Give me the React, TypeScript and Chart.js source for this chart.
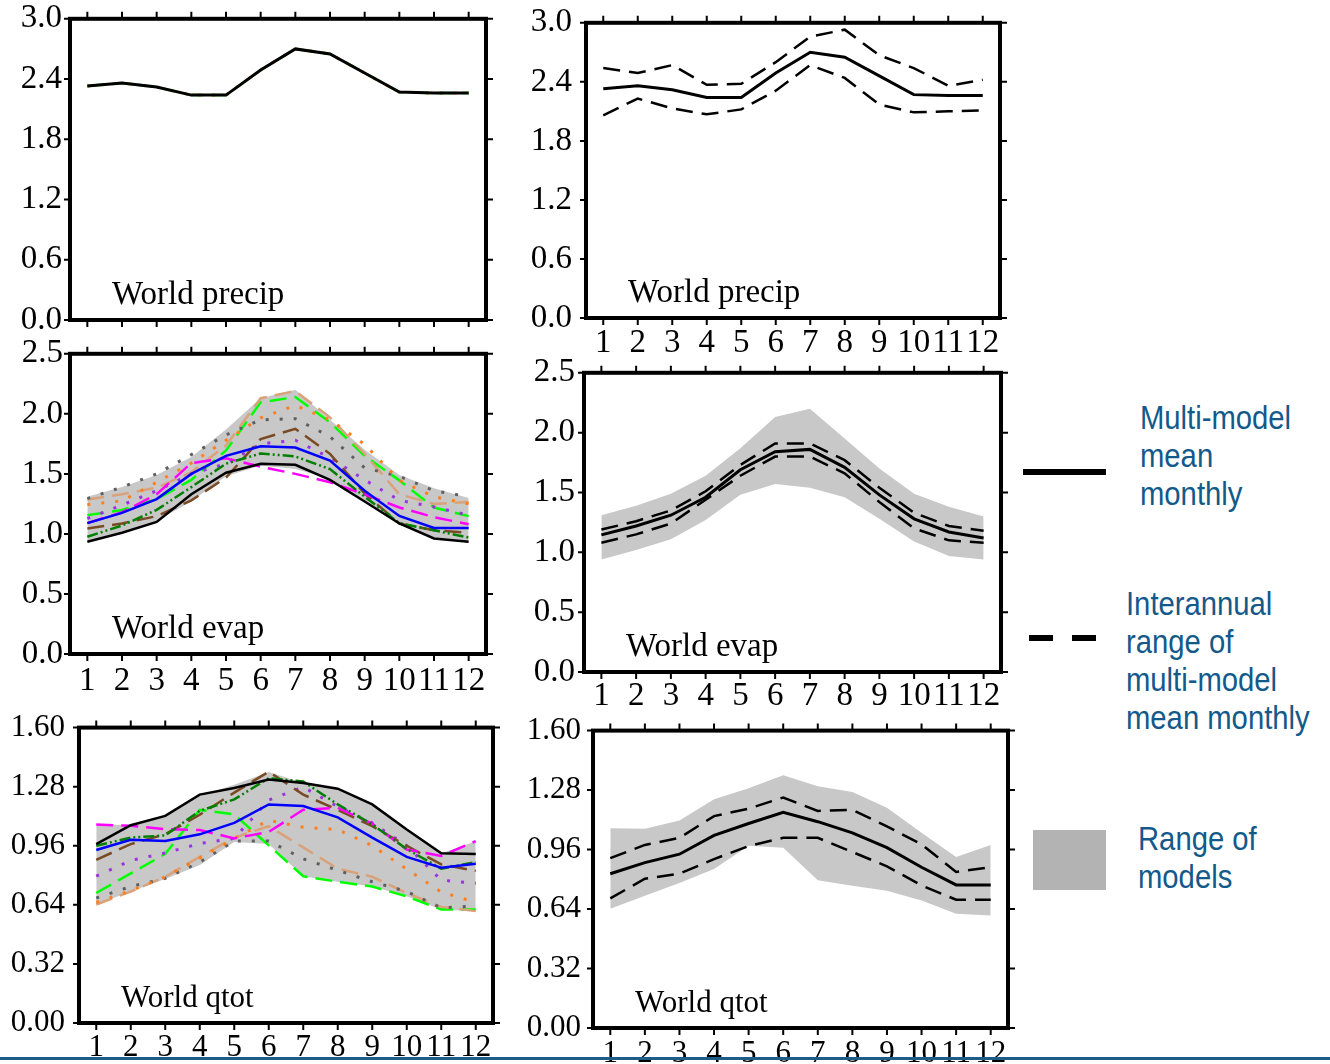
import React, { useEffect, useRef } from "react";
import { Chart, registerables } from "chart.js";

Chart.register(...registerables);

// ---------- categories & tick labels ----------
const months = ["1", "2", "3", "4", "5", "6", "7", "8", "9", "10", "11", "12"];
const precipTicks = [0, 0.6, 1.2, 1.8, 2.4, 3.0];
const evapTicks = [0, 0.5, 1.0, 1.5, 2.0, 2.5];
const qtotTicks = [0, 0.32, 0.64, 0.96, 1.28, 1.6];

// ---------- World precip ----------
const precipMean = [2.33, 2.36, 2.32, 2.24, 2.24, 2.49, 2.70, 2.65, 2.46, 2.27, 2.26, 2.26];
const precipUpper = [2.54, 2.49, 2.57, 2.37, 2.38, 2.60, 2.86, 2.93, 2.67, 2.54, 2.36, 2.42];
const precipLower = [2.06, 2.23, 2.13, 2.07, 2.12, 2.31, 2.57, 2.44, 2.17, 2.09, 2.10, 2.11];

// ---------- World evap: individual models ----------
const evapBlack = [0.935, 1.01, 1.10, 1.33, 1.51, 1.585, 1.576, 1.45, 1.27, 1.087, 0.962, 0.935];
const evapBlue = [1.09, 1.175, 1.29, 1.50, 1.65, 1.73, 1.72, 1.61, 1.36, 1.15, 1.05, 1.05];
const evapDarkGreen = [0.976, 1.07, 1.20, 1.39, 1.585, 1.67, 1.645, 1.54, 1.31, 1.09, 1.03, 0.97];
const evapMagenta = [1.09, 1.18, 1.33, 1.59, 1.63, 1.56, 1.50, 1.43, 1.33, 1.22, 1.14, 1.08];
const evapBrightGreen = [1.156, 1.20, 1.29, 1.45, 1.695, 2.096, 2.14, 1.93, 1.65, 1.446, 1.22, 1.148];
const evapTan = [1.286, 1.33, 1.385, 1.515, 1.737, 2.13, 2.19, 1.97, 1.667, 1.33, 1.25, 1.266];
const evapOrange = [1.244, 1.275, 1.43, 1.59, 1.78, 1.966, 2.07, 1.95, 1.745, 1.446, 1.31, 1.25];
const evapGray = [1.294, 1.39, 1.50, 1.66, 1.825, 1.95, 1.96, 1.81, 1.55, 1.48, 1.36, 1.31];
const evapPurple = [1.128, 1.24, 1.36, 1.50, 1.585, 1.75, 1.78, 1.634, 1.45, 1.28, 1.225, 1.156];
const evapBrown = [1.045, 1.087, 1.148, 1.28, 1.468, 1.79, 1.875, 1.667, 1.336, 1.087, 1.03, 1.01];
// ---------- World evap: multi-model summary ----------
const evapMean = [1.146, 1.22, 1.31, 1.46, 1.69, 1.84, 1.86, 1.71, 1.48, 1.28, 1.17, 1.12];
const evapUpper = [1.19, 1.26, 1.35, 1.51, 1.73, 1.91, 1.91, 1.77, 1.54, 1.33, 1.22, 1.18];
const evapLower = [1.08, 1.15, 1.24, 1.44, 1.64, 1.80, 1.80, 1.66, 1.42, 1.20, 1.10, 1.08];
const evapRangeMax = [1.31, 1.39, 1.49, 1.64, 1.87, 2.13, 2.20, 1.95, 1.70, 1.49, 1.38, 1.30];
const evapRangeMin = [0.94, 1.02, 1.11, 1.27, 1.48, 1.57, 1.54, 1.46, 1.28, 1.09, 0.97, 0.94];

// ---------- World qtot: individual models ----------
const qtotBlack = [0.969, 1.071, 1.122, 1.237, 1.273, 1.319, 1.30, 1.269, 1.184, 1.048, 0.919, 0.916];
const qtotBlue = [0.937, 0.992, 0.986, 1.022, 1.084, 1.184, 1.175, 1.114, 1.004, 0.90, 0.841, 0.863];
const qtotDarkGreen = [0.96, 1.004, 1.016, 1.149, 1.211, 1.326, 1.308, 1.184, 1.075, 0.942, 0.836, 0.871];
const qtotMagenta = [1.075, 1.068, 1.05, 1.045, 1.0, 1.035, 1.155, 1.165, 1.08, 0.94, 0.905, 0.985];
const qtotBrightGreen = [0.704, 0.81, 0.916, 1.154, 1.13, 0.962, 0.795, 0.765, 0.739, 0.686, 0.615, 0.615];
const qtotBrown = [0.884, 0.969, 1.022, 1.128, 1.248, 1.361, 1.237, 1.154, 1.066, 0.96, 0.859, 0.824];
const qtotPurple = [0.795, 0.88, 0.921, 0.972, 1.0, 1.207, 1.278, 1.172, 1.084, 0.96, 0.774, 0.757];
const qtotOrange = [0.654, 0.716, 0.792, 0.894, 1.0, 1.098, 1.06, 1.048, 0.96, 0.833, 0.709, 0.654];
const qtotTan = [0.642, 0.712, 0.792, 0.90, 1.004, 1.066, 0.951, 0.836, 0.792, 0.704, 0.629, 0.606];
const qtotGray = [0.677, 0.739, 0.783, 0.871, 0.986, 0.986, 0.889, 0.827, 0.765, 0.712, 0.624, 0.633];
// ---------- World qtot: multi-model summary ----------
const qtotMean = [0.83, 0.89, 0.935, 1.036, 1.10, 1.16, 1.11, 1.05, 0.97, 0.865, 0.77, 0.77];
const qtotUpper = [0.914, 0.985, 1.023, 1.14, 1.18, 1.24, 1.168, 1.173, 1.085, 0.988, 0.84, 0.865];
const qtotLower = [0.697, 0.803, 0.83, 0.909, 0.979, 1.023, 1.023, 0.947, 0.87, 0.767, 0.69, 0.69];
const qtotRangeMax = [1.075, 1.072, 1.117, 1.23, 1.29, 1.36, 1.30, 1.27, 1.185, 1.05, 0.92, 0.985];
const qtotRangeMin = [0.642, 0.712, 0.78, 0.856, 0.98, 0.97, 0.795, 0.765, 0.739, 0.686, 0.615, 0.605];

// ---------- styles ----------
const SERIF = '"Liberation Serif", "Times New Roman", serif';
const DASH_LONG = [17, 8];
const DASH_DOT = [3, 11];
const DASH_DDOT = [11, 3, 2, 3, 2, 3];
const MEAN_DASH = [17, 9];
const RANGE_FILL = "#c8c8c8";

const line = (data: number[], color: string, dash: number[] = [], width = 2.5) => ({
  data,
  borderColor: color,
  borderWidth: width,
  borderDash: dash,
  borderCapStyle: "butt",
  pointRadius: 0,
  fill: false,
  tension: 0,
});

const band = (max: number[], min: number[]) => [
  { data: max, borderWidth: 0, borderColor: "rgba(0,0,0,0)", backgroundColor: RANGE_FILL, fill: "+1", pointRadius: 0, tension: 0 },
  { data: min, borderWidth: 0, borderColor: "rgba(0,0,0,0)", fill: false, pointRadius: 0, tension: 0 },
];

const modelLines = (m: Record<string, number[]>) => [
  line(m.brightGreen, "#00ff00", DASH_LONG),
  line(m.tan, "#d9a27b", DASH_LONG),
  line(m.gray, "#5f5f5f", DASH_DOT, 3),
  line(m.orange, "#ff7f1e", DASH_DOT, 3),
  line(m.purple, "#9933dd", DASH_DOT, 3),
  line(m.brown, "#7a4a24", DASH_LONG),
  line(m.magenta, "#ff00ff", DASH_LONG),
  line(m.darkGreen, "#008000", DASH_DDOT),
  line(m.blue, "#0000ff", [], 2.5),
  line(m.black, "#000000", [], 2.5),
];

const framePlugin = {
  id: "frame",
  afterDraw(chart: any, _args: any, opts: any) {
    const { ctx, chartArea: a, scales } = chart;
    const x = scales.x;
    const y = scales.y;
    ctx.save();
    ctx.strokeStyle = "#000";
    ctx.lineWidth = 2;
    ctx.setLineDash([]);
    ctx.beginPath();
    for (let i = 0; i < months.length; i++) {
      const px = x.getPixelForValue(i);
      ctx.moveTo(px, a.top - 7);
      ctx.lineTo(px, a.top);
      ctx.moveTo(px, a.bottom);
      ctx.lineTo(px, a.bottom + 7);
    }
    for (const t of y.ticks) {
      const py = y.getPixelForValue(t.value);
      ctx.moveTo(a.left - 6, py);
      ctx.lineTo(a.left, py);
      ctx.moveTo(a.right, py);
      ctx.lineTo(a.right + 7, py);
    }
    ctx.stroke();
    ctx.lineWidth = 4;
    ctx.strokeRect(a.left, a.top, a.right - a.left, a.bottom - a.top);
    ctx.font = `${opts.size}px ${SERIF}`;
    ctx.fillStyle = "#000";
    ctx.textAlign = "left";
    ctx.textBaseline = "alphabetic";
    ctx.fillText(opts.text, a.left + 42, a.bottom - 16);
    ctx.restore();
  },
};

type Box = { l: number; t: number; r: number; b: number };
type PanelProps = {
  box: Box;
  ticks: number[];
  decimals: number;
  showX: boolean;
  fontSize: number;
  yPad: number;
  xPad: number;
  title: string;
  datasets: any[];
};

function Panel(p: PanelProps) {
  const ref = useRef<HTMLCanvasElement>(null);
  const LW = 80;
  const PT = 26;
  const PR = 22;
  const XH = p.showX ? 56 : 30;
  const W = LW + (p.box.r - p.box.l) + PR;
  const H = PT + (p.box.b - p.box.t) + XH;

  useEffect(() => {
    const font = { family: SERIF, size: p.fontSize };
    const chart = new Chart(ref.current as HTMLCanvasElement, {
      type: "line",
      data: { labels: months, datasets: p.datasets },
      options: {
        animation: false,
        responsive: false,
        maintainAspectRatio: false,
        layout: { padding: { top: PT, right: PR, left: 0, bottom: 0 } },
        plugins: {
          legend: { display: false },
          tooltip: { enabled: false },
          filler: { drawTime: "beforeDatasetsDraw" },
          frame: { text: p.title, size: p.fontSize },
        } as any,
        scales: {
          x: {
            type: "category",
            offset: true,
            grid: { display: false, drawTicks: false },
            border: { display: false },
            ticks: {
              display: p.showX,
              font,
              color: "#000",
              padding: p.xPad,
              autoSkip: false,
              maxRotation: 0,
              minRotation: 0,
            },
            afterFit: (s: any) => {
              s.height = XH;
            },
          },
          y: {
            type: "linear",
            min: p.ticks[0],
            max: p.ticks[p.ticks.length - 1],
            grid: { display: false, drawTicks: false },
            border: { display: false },
            ticks: {
              font,
              color: "#000",
              padding: p.yPad,
              callback: (v: any) => Number(v).toFixed(p.decimals),
            },
            afterBuildTicks: (s: any) => {
              s.ticks = p.ticks.map((v) => ({ value: v }));
            },
            afterFit: (s: any) => {
              s.width = LW;
            },
          },
        },
      } as any,
      plugins: [framePlugin as any],
    });
    return () => chart.destroy();
  }, []);

  return (
    <canvas
      ref={ref}
      width={W}
      height={H}
      style={{ position: "absolute", left: p.box.l - LW, top: p.box.t - PT, width: W, height: H }}
    />
  );
}

const evapModels = {
  black: evapBlack, blue: evapBlue, darkGreen: evapDarkGreen, magenta: evapMagenta,
  brightGreen: evapBrightGreen, tan: evapTan, orange: evapOrange, gray: evapGray,
  purple: evapPurple, brown: evapBrown,
};
const qtotModels = {
  black: qtotBlack, blue: qtotBlue, darkGreen: qtotDarkGreen, magenta: qtotMagenta,
  brightGreen: qtotBrightGreen, tan: qtotTan, orange: qtotOrange, gray: qtotGray,
  purple: qtotPurple, brown: qtotBrown,
};

const summary = (mean: number[], upper: number[], lower: number[]) => [
  line(mean, "#000", [], 3),
  line(upper, "#000", MEAN_DASH, 2.5),
  line(lower, "#000", MEAN_DASH, 2.5),
];

const LEG_COLOR = "#13598a";
const LEG_FONT = '"Liberation Sans", Arial, sans-serif';

function LegendText({ x, y, lines }: { x: number; y: number; lines: string[] }) {
  return (
    <>
      {lines.map((s, i) => (
        <div
          key={i}
          style={{
            position: "absolute",
            left: x,
            top: y + i * 38,
            fontFamily: LEG_FONT,
            fontSize: 34,
            lineHeight: "38px",
            color: LEG_COLOR,
            whiteSpace: "nowrap",
            transform: "scaleX(0.86)",
            transformOrigin: "0 0",
          }}
        >
          {s}
        </div>
      ))}
    </>
  );
}

export default function App() {
  return (
    <div style={{ position: "absolute", left: 0, top: 0, width: 1330, height: 1064, overflow: "hidden", background: "#fff" }}>
      <Panel box={{ l: 70, t: 17, r: 486, b: 320 }} ticks={precipTicks} decimals={1} showX={false} fontSize={33} yPad={8} xPad={2}
        title="World precip"
        datasets={[line(precipMean, "#ff7f1e", DASH_DOT, 3), line(precipMean, "#00ff00", DASH_LONG), line(precipMean, "#000", [], 3)].reverse()} />
      <Panel box={{ l: 586, t: 15, r: 1000, b: 318 }} ticks={precipTicks} decimals={1} showX={true} fontSize={33} yPad={14} xPad={6}
        title="World precip"
        datasets={summary(precipMean, precipUpper, precipLower)} />
      <Panel box={{ l: 70, t: 353, r: 486, b: 654 }} ticks={evapTicks} decimals={1} showX={true} fontSize={33} yPad={7} xPad={8}
        title="World evap"
        datasets={[...modelLines(evapModels).reverse(), ...band(evapRangeMax, evapRangeMin)]} />
      <Panel box={{ l: 584, t: 370, r: 1001, b: 672 }} ticks={evapTicks} decimals={1} showX={true} fontSize={33} yPad={9} xPad={5}
        title="World evap"
        datasets={[...summary(evapMean, evapUpper, evapLower), ...band(evapRangeMax, evapRangeMin)]} />
      <Panel box={{ l: 79, t: 721, r: 493, b: 1023 }} ticks={qtotTicks} decimals={2} showX={true} fontSize={31} yPad={14} xPad={6}
        title="World qtot"
        datasets={[...modelLines(qtotModels).reverse(), ...band(qtotRangeMax, qtotRangeMin)]} />
      <Panel box={{ l: 593, t: 726, r: 1008, b: 1028 }} ticks={qtotTicks} decimals={2} showX={true} fontSize={31} yPad={12} xPad={7}
        title="World qtot"
        datasets={[...summary(qtotMean, qtotUpper, qtotLower), ...band(qtotRangeMax, qtotRangeMin)]} />

      {/* legend */}
      <div style={{ position: "absolute", left: 1023, top: 469, width: 83, height: 6, background: "#000" }} />
      <LegendText x={1140} y={398} lines={["Multi-model", "mean", "monthly"]} />
      <div style={{ position: "absolute", left: 1029, top: 635, width: 24, height: 6, background: "#000" }} />
      <div style={{ position: "absolute", left: 1072, top: 635, width: 24, height: 6, background: "#000" }} />
      <LegendText x={1126} y={584} lines={["Interannual", "range of", "multi-model", "mean monthly"]} />
      <div style={{ position: "absolute", left: 1033, top: 830, width: 73, height: 60, background: "#b3b3b3" }} />
      <LegendText x={1138} y={819} lines={["Range of", "models"]} />

      <div style={{ position: "absolute", left: 0, top: 1057, width: 1330, height: 3, background: "#1f5b87" }} />
    </div>
  );
}
